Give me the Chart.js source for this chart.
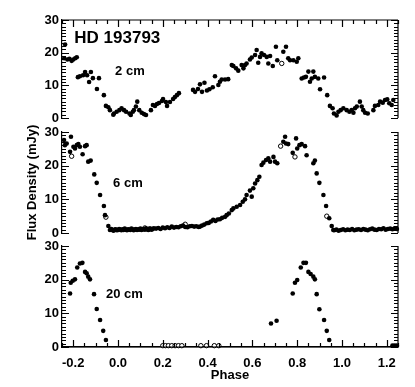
<!DOCTYPE html>
<html><head><meta charset="utf-8">
<script src="https://cdn.jsdelivr.net/npm/chart.js@4.4.0/dist/chart.umd.min.js"></script>
<style>
html,body{margin:0;padding:0;background:#fff;width:415px;height:387px;overflow:hidden}
canvas{position:absolute;left:0;top:0}
</style></head>
<body>
<canvas id="c1" width="415" height="387"></canvas>
<canvas id="c2" width="415" height="387"></canvas>
<canvas id="c3" width="415" height="387"></canvas>
<script>
// ---------- data ----------
const titleText = 'HD 193793';
const panelLabels = ['2 cm', '6 cm', '20 cm'];
const yAxisTitle = 'Flux Density (mJy)';
const xAxisTitle = 'Phase';
const xTickValues = [-0.2, 0.0, 0.2, 0.4, 0.6, 0.8, 1.0, 1.2];
const yTickValues = [0, 10, 20, 30];

const phase2cm = [-0.236,-0.240,-0.226,-0.217,-0.207,-0.200,-0.191,-0.184,
 -0.179,-0.170,-0.156,-0.147,-0.138,-0.129,-0.121,-0.112,-0.094,-0.085,-0.063,
 -0.054,-0.043,-0.036,-0.021,-0.018,-0.006,0.006,0.016,0.027,0.036,0.051,0.057,0.066,0.071,0.080,0.086,0.095,0.106,0.116,0.125,
 0.147,0.156,0.165,0.174,0.183,0.196,0.201,0.214,0.219,0.232,0.246,0.254,0.263,0.272,
 0.335,0.344,0.357,0.366,0.375,0.386,0.397,0.408,0.423,
 0.433,0.448,0.455,0.463,0.478,0.492,
 0.508,0.515,0.527,0.537,0.552,0.560,0.567,0.574,0.589,0.597,
 0.612,0.619,0.626,0.634,0.641,0.652,0.664,0.671,0.679,0.691,
 0.705,0.711,0.738,0.750,0.760,0.768,0.783,0.798,0.805,
 0.820,0.830,0.839,0.850,0.857,0.865,0.872,0.879,0.894,0.902,0.920,0.934,
 0.946,0.958,0.964,0.976,0.984,0.994,1.006,1.021,1.033,1.043,1.051,1.058,1.066,1.080,1.088,1.095,1.103,1.115,
 1.140,1.147,1.162,1.170,1.182,1.192,1.202,1.211,1.222,1.229];
const flux2cm = [22.5,18.3,17.9,18.1,17.5,17.9,18.3,18.6,
 12.5,12.8,13.1,14.1,13.1,11.0,14.1,12.2,8.9,12.2,7.0,
 3.7,3.3,2.4,1.0,1.4,1.9,2.4,3.0,2.4,1.9,1.4,0.9,1.9,2.4,3.5,5.0,2.4,1.6,1.2,0.9,
 2.4,4.0,3.7,4.3,4.6,5.2,5.8,4.9,3.7,4.9,5.8,6.4,7.0,7.6,
 8.6,8.0,8.9,10.3,8.0,10.8,8.4,8.8,9.4,
 12.8,10.1,11.1,11.8,11.8,11.9,
 16.2,15.9,15.2,14.5,16.2,15.2,16.2,16.7,17.9,18.5,
 19.3,20.8,16.9,18.7,19.8,19.3,18.7,16.7,19.0,15.9,
 21.8,17.7,20.3,21.8,18.3,17.7,17.7,17.2,18.3,
 12.1,12.4,12.6,14.2,11.1,12.1,14.2,12.6,12.1,8.8,12.4,7.0,
 3.7,3.0,1.4,0.8,1.9,2.4,3.0,2.4,1.9,2.4,1.6,3.0,3.5,5.0,3.5,2.4,1.6,1.4,
 2.4,3.7,4.0,5.0,4.7,5.5,5.7,4.5,4.0,5.5];
const phase2cmOpen = [0.731];
const flux2cmOpen = [16.7];

const phase6cm = [-0.241,-0.237,-0.229,-0.214,-0.210,-0.199,-0.192,-0.184,-0.177,-0.170,-0.158,-0.147,-0.140,-0.133,-0.122,-0.106,-0.095,-0.080,-0.063,-0.058,-0.043,-0.036,
 -0.030,-0.025,-0.020,-0.015,-0.010,-0.005,0.000,0.005,0.010,0.015,0.020,0.025,0.030,0.035,0.040,0.045,0.050,0.055,0.060,0.065,0.070,0.075,0.080,0.085,0.090,0.095,0.100,0.105,0.110,0.115,0.120,0.125,0.130,0.135,0.140,0.145,0.150,0.155,0.160,
 0.17,0.18,0.19,0.20,0.21,0.22,0.23,0.24,0.25,0.26,0.27,0.28,0.29,0.30,0.31,0.32,0.33,0.34,0.35,
 0.360,0.366,0.375,0.385,0.396,0.405,0.415,0.425,0.435,0.445,0.455,0.465,0.478,0.485,0.495,0.508,0.515,0.530,0.545,0.557,0.567,0.574,0.589,0.597,0.604,0.612,0.622,0.631,0.641,0.649,0.661,0.671,0.679,0.694,0.701,0.711,
 0.738,0.746,0.750,0.760,0.780,0.795,0.800,0.810,0.820,0.835,0.842,0.872,0.879,0.887,0.899,0.917,0.929,0.943,0.954,0.961,
 0.965,0.975,0.985,0.995,1.005,1.015,1.025,1.035,1.045,1.055,1.065,1.075,1.085,1.095,1.105,1.115,1.125,1.135,1.145,1.155,1.165,1.175,1.185,1.195,1.205,1.215,1.225,1.235,1.245];
const flux6cm = [27.6,26.1,26.6,24.1,28.6,25.6,25.1,26.1,26.4,25.6,23.4,25.8,26.1,21.2,21.5,17.4,14.9,11.3,8.0,5.3,2.1,0.9,
 1.2,0.9,0.7,1.0,1.1,0.8,0.9,1.2,1.0,0.8,1.1,0.9,1.3,1.0,0.8,1.1,1.0,0.9,1.3,1.1,0.8,1.0,1.2,0.9,1.1,1.0,1.3,0.9,1.1,1.2,1.0,1.4,1.1,0.9,1.2,1.3,1.0,1.2,1.4,
 1.3,1.5,1.2,1.6,1.4,1.7,1.5,1.9,1.6,1.8,1.7,2.0,2.2,1.8,1.7,2.0,2.1,1.9,2.0,
 1.8,1.9,2.2,2.5,2.9,3.0,3.4,3.9,3.6,4.0,4.1,4.5,4.8,5.3,5.8,6.8,7.3,7.8,8.3,9.3,10.0,11.3,12.6,10.8,13.3,14.7,15.7,16.7,20.2,20.9,21.7,22.2,21.2,22.6,21.2,20.7,
 27.1,28.6,26.6,26.4,23.8,28.1,25.1,26.1,26.4,25.8,23.1,20.7,21.5,17.7,14.9,11.3,8.0,4.4,2.1,0.9,
 0.8,1.0,0.7,0.9,1.1,0.8,1.0,0.9,1.2,0.8,1.0,1.1,0.9,1.2,1.0,0.8,1.1,1.3,1.0,0.9,1.2,1.1,1.4,1.0,1.2,1.3,1.1,1.4,1.2];
const phase6cmOpen = [-0.207,-0.054,0.120,0.140,0.300,0.726,0.790,0.932];
const flux6cmOpen = [22.8,4.7,1.5,1.2,2.6,25.8,22.6,5.0];

const phase20cm = [-0.214,-0.211,-0.202,-0.192,-0.182,-0.170,-0.159,-0.147,-0.140,-0.133,-0.125,-0.107,-0.095,-0.080,-0.066,-0.054,
 0.683,0.708,0.780,0.790,0.800,0.816,0.828,0.839,0.850,0.860,0.872,0.879,0.887,0.899,0.920,0.932,0.943,
 1.225,1.235,1.245];
const flux20cm = [15.9,19.1,19.7,20.1,23.6,24.8,25.0,22.3,21.9,20.9,20.1,15.7,11.3,8.0,4.8,2.1,
 7.0,7.8,15.9,19.1,19.9,23.6,25.0,25.0,22.3,21.7,20.9,20.1,15.7,11.2,8.0,4.8,2.1,
 0.4,0.4,0.4];
const phase20cmOpen = [0.200,0.212,0.225,0.240,0.255,0.270,0.285,0.370,0.395,0.430,0.450];
const flux20cmOpen = [0.4,0.4,0.4,0.4,0.4,0.4,0.4,0.4,0.4,0.4,0.4];

// ---------- helpers ----------
const FONT = "'Liberation Sans', Arial, Helvetica, sans-serif";
const pts = (px, fy) => px.map((p, i) => ({x: p, y: fy[i]}));

const framePlugin = {
  id: 'frame',
  afterDatasetsDraw(chart, args, o) {
    const {ctx, chartArea: a, scales: {x, y}} = chart;
    ctx.save();
    ctx.strokeStyle = '#000';
    ctx.lineWidth = 1.2;
    ctx.beginPath();
    ctx.moveTo(a.right, a.top); ctx.lineTo(a.right, a.bottom);
    for (let v = 0; v <= 30; v++) {
      const py = Math.round(y.getPixelForValue(v)) + 0.5;
      const len = v % 10 === 0 ? 7 : 4;
      ctx.moveTo(a.left, py); ctx.lineTo(a.left + len, py);
      ctx.moveTo(a.right, py); ctx.lineTo(a.right - len, py);
    }
    if (o.top || o.bottom) {
      const yy = o.top ? a.top : a.bottom;
      const dir = o.top ? 1 : -1;
      ctx.moveTo(a.left, yy); ctx.lineTo(a.right, yy);
      for (let i = -5; i <= 25; i++) {
        const px = Math.round(x.getPixelForValue(i * 0.05)) + 0.5;
        const len = i % 4 === 0 ? 7 : 4;
        ctx.moveTo(px, yy); ctx.lineTo(px, yy + dir * len);
      }
    }
    ctx.stroke();
    ctx.fillStyle = '#000';
    ctx.textBaseline = 'middle';
    ctx.textAlign = 'left';
    (o.labels || []).forEach(l => {
      ctx.font = l.font;
      ctx.fillText(l.text, x.getPixelForValue(l.x), y.getPixelForValue(l.y));
    });
    ctx.restore();
  }
};

function makeChart(id, filled, open, pad, opts) {
  const datasets = [
    {data: filled, backgroundColor: '#000', borderColor: '#000', pointRadius: 2.3, pointBorderWidth: 0, clip: false},
    {data: open, backgroundColor: '#fff', borderColor: '#000', pointRadius: 2.2, pointBorderWidth: 1, clip: false}
  ];
  return new Chart(document.getElementById(id), {
    type: 'scatter',
    data: {datasets},
    options: {
      responsive: false, animation: false, devicePixelRatio: 1,
      layout: {padding: pad},
      plugins: {legend: {display: false}, tooltip: {enabled: false}, frame: opts.frame},
      scales: {
        x: {
          type: 'linear', min: -0.25, max: 1.25,
          display: !!opts.showX,
          grid: {display: false, drawTicks: false},
          border: {display: true, color: '#000', width: 1.2},
          afterBuildTicks: s => { s.ticks = xTickValues.map(v => ({value: v})); },
          afterFit: s => { if (s.options.display) s.height = 40; },
          ticks: {padding: 9, color: '#000', font: {family: FONT, size: 13, weight: 'bold'}, callback: v => Number(v).toFixed(1), maxRotation: 0, autoSkip: false},
          title: {display: !!opts.showX, text: xAxisTitle, color: '#000', font: {family: FONT, size: 13, weight: 'bold'}, padding: {top: 0, bottom: 4}}
        },
        y: {
          type: 'linear', min: 0, max: 30,
          grid: {display: false, drawTicks: false},
          border: {display: true, color: '#000', width: 1.2},
          afterBuildTicks: s => { s.ticks = yTickValues.map(v => ({value: v})); },
          afterFit: s => { s.width = 62; },
          ticks: {padding: 3, color: '#000', font: {family: FONT, size: 13, weight: 'bold'}},
          title: {display: !!opts.showYTitle, text: yAxisTitle, color: '#000', font: {family: FONT, size: 13, weight: 'bold'}, padding: {top: 25, bottom: 0}}
        }
      }
    },
    plugins: [framePlugin]
  });
}

makeChart('c1', pts(phase2cm, flux2cm), pts(phase2cmOpen, flux2cmOpen),
  {top: 20, bottom: 269, left: 0, right: 17},
  {frame: {top: true, labels: [
    {text: titleText, x: -0.195, y: 24.5, font: 'bold 17px ' + FONT},
    {text: panelLabels[0], x: -0.013, y: 14.4, font: 'bold 13px ' + FONT}]}});

makeChart('c2', pts(phase6cm, flux6cm), pts(phase6cmOpen, flux6cmOpen),
  {top: 132, bottom: 154, left: 0, right: 17},
  {showYTitle: true, frame: {labels: [
    {text: panelLabels[1], x: -0.022, y: 14.8, font: 'bold 13px ' + FONT}]}});

makeChart('c3', pts(phase20cm, flux20cm), pts(phase20cmOpen, flux20cmOpen),
  {top: 246, bottom: 0, left: 0, right: 17},
  {showX: true, frame: {bottom: true, labels: [
    {text: panelLabels[2], x: -0.054, y: 15.7, font: 'bold 13px ' + FONT}]}});
</script>
</body></html>
